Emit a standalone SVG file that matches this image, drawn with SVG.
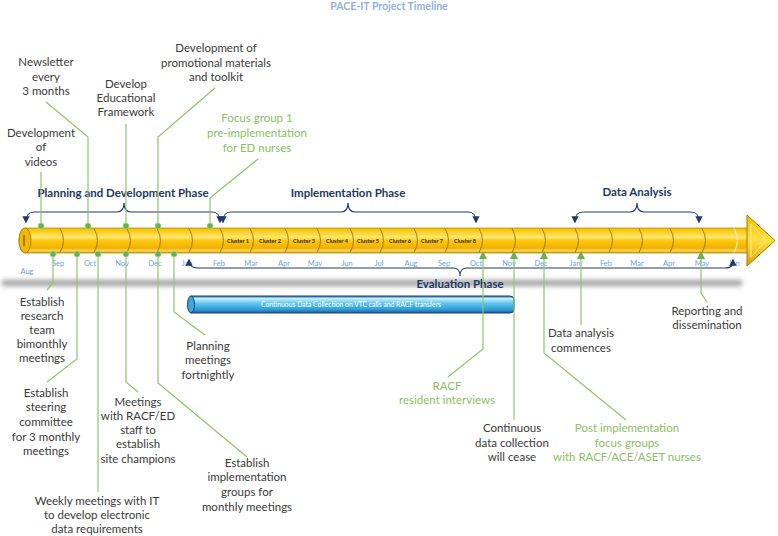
<svg xmlns="http://www.w3.org/2000/svg" width="778" height="536" viewBox="0 0 778 536">
<defs>
<linearGradient id="gold" x1="0" y1="0" x2="0" y2="1">
<stop offset="0" stop-color="#f0bc00"/>
<stop offset="0.18" stop-color="#ffd22a"/>
<stop offset="0.36" stop-color="#ffe878"/>
<stop offset="0.5" stop-color="#fcca10"/>
<stop offset="0.8" stop-color="#f2b000"/>
<stop offset="0.92" stop-color="#f8d860"/>
<stop offset="1" stop-color="#d49400"/>
</linearGradient>
<linearGradient id="goldH" x1="0" y1="0" x2="0" y2="1">
<stop offset="0" stop-color="#f5c000"/>
<stop offset="0.5" stop-color="#ffdf40"/>
<stop offset="1" stop-color="#dca000"/>
</linearGradient>
<linearGradient id="blue" x1="0" y1="0" x2="0" y2="1">
<stop offset="0" stop-color="#1c6fae"/>
<stop offset="0.15" stop-color="#c6effc"/>
<stop offset="0.45" stop-color="#5cc3ee"/>
<stop offset="0.8" stop-color="#2f9bd6"/>
<stop offset="1" stop-color="#1b5f9c"/>
</linearGradient>
<filter id="blur" x="-5%" y="-200%" width="110%" height="500%">
<feGaussianBlur stdDeviation="2.5"/>
</filter>
<marker id="ah" viewBox="0 0 10 10" refX="8" refY="5" markerWidth="6" markerHeight="6" orient="auto-start-reverse">
<path d="M0,0 L10,5 L0,10 Z" fill="#1f3a6e"/>
</marker>
<style>
.t{font-family:Lato,"Open Sans","Liberation Sans",sans-serif;font-size:11.5px;fill:#3a3a3a;text-anchor:middle}
.g{fill:#8cc063}
.ph{font-family:Lato,"Open Sans","Liberation Sans",sans-serif;font-size:11.5px;font-weight:bold;fill:#203864;text-anchor:middle}
.m{font-family:Lato,"Open Sans","Liberation Sans",sans-serif;font-size:7.5px;fill:#6f9fd8;text-anchor:middle}
.c{font-family:Lato,"Liberation Sans",sans-serif;font-size:5.5px;font-weight:bold;fill:#3a2a00;text-anchor:middle}
.ln{fill:none;stroke:#92c46a;stroke-width:1.2}
.br{fill:none;stroke:#1f3a6e;stroke-width:1.2}
.dv{fill:none;stroke:#8c6a00;stroke-width:0.8}
.dot{fill:#6ab04c;stroke:#a8d88a;stroke-width:0.8}
.tri{fill:#6ab04c}
</style>
</defs>
<rect width="778" height="536" fill="#ffffff"/>
<text x="389" y="10" style="font-family:Lato,'Open Sans','Liberation Sans',sans-serif;font-size:10.5px;font-weight:bold;fill:#8fb3dc;text-anchor:middle">PACE-IT Project Timeline</text>

<!-- shadow -->
<rect x="2" y="280" width="740" height="6" fill="#777777" opacity="0.7" filter="url(#blur)"/>

<!-- timeline cylinder -->
<g id="timeline">
<path d="M25,228 L748,228 L748,253 L25,253 A6,12.5 0 0 1 25,228 Z" fill="url(#gold)" stroke="#b8900a" stroke-width="0.8"/>
<polygon points="747,215 775,240.5 747,266" fill="url(#goldH)" stroke="#a47c00" stroke-width="1"/>
<polygon points="751,224 766,240.5 751,257" fill="none" stroke="#fff3a8" stroke-width="1" opacity="0.8"/>
<ellipse cx="25" cy="240.5" rx="6" ry="12.5" fill="#f0b800" stroke="#9c7800" stroke-width="0.8"/>
<line x1="24" y1="235" x2="24" y2="246" stroke="#5a4400" stroke-width="1"/>
<g class="dv">
<path d="M60,228.5 Q67,240.5 60,252.5"/>
<path d="M94,228.5 Q101,240.5 94,252.5"/>
<path d="M127,228.5 Q134,240.5 127,252.5"/>
<path d="M157,228.5 Q164,240.5 157,252.5"/>
<path d="M189,228.5 Q196,240.5 189,252.5"/>
<path d="M220,228.5 Q227,240.5 220,252.5"/>
<path d="M250,228.5 Q257,240.5 250,252.5"/>
<path d="M285,228.5 Q292,240.5 285,252.5"/>
<path d="M317,228.5 Q324,240.5 317,252.5"/>
<path d="M350,228.5 Q357,240.5 350,252.5"/>
<path d="M380,228.5 Q387,240.5 380,252.5"/>
<path d="M414,228.5 Q421,240.5 414,252.5"/>
<path d="M445,228.5 Q452,240.5 445,252.5"/>
<path d="M479,228.5 Q486,240.5 479,252.5"/>
<path d="M512,228.5 Q519,240.5 512,252.5"/>
<path d="M542,228.5 Q549,240.5 542,252.5"/>
<path d="M575,228.5 Q582,240.5 575,252.5"/>
<path d="M609,228.5 Q616,240.5 609,252.5"/>
<path d="M639,228.5 Q646,240.5 639,252.5"/>
<path d="M670,228.5 Q677,240.5 670,252.5"/>
<path d="M702,228.5 Q709,240.5 702,252.5"/>
</g>
<path d="M734,228.5 Q741,240.5 734,252.5" fill="none" stroke="#fff6c8" stroke-width="1"/>
<g>
<text class="c" x="238" y="243">Cluster 1</text>
<text class="c" x="270" y="243">Cluster 2</text>
<text class="c" x="304" y="243">Cluster 3</text>
<text class="c" x="337" y="243">Cluster 4</text>
<text class="c" x="368" y="243">Cluster 5</text>
<text class="c" x="400" y="243">Cluster 6</text>
<text class="c" x="432" y="243">Cluster 7</text>
<text class="c" x="465" y="243">Cluster 8</text>
</g>
</g>

<!-- months -->
<g id="months">
<text class="m" x="27" y="274">Aug</text>
<text class="m" x="58" y="266">Sep</text>
<text class="m" x="90" y="266">Oct</text>
<text class="m" x="122" y="266">Nov</text>
<text class="m" x="155" y="266">Dec</text>
<text class="m" x="187" y="266">Jan</text>
<text class="m" x="219" y="266">Feb</text>
<text class="m" x="251" y="266">Mar</text>
<text class="m" x="284" y="266">Apr</text>
<text class="m" x="315" y="266">May</text>
<text class="m" x="347" y="266">Jun</text>
<text class="m" x="379" y="266">Jul</text>
<text class="m" x="411" y="266">Aug</text>
<text class="m" x="444" y="266">Sep</text>
<text class="m" x="476" y="266">Oct</text>
<text class="m" x="509" y="266">Nov</text>
<text class="m" x="541" y="266">Dec</text>
<text class="m" x="575" y="266">Jan</text>
<text class="m" x="606" y="266">Feb</text>
<text class="m" x="637" y="266">Mar</text>
<text class="m" x="669" y="266">Apr</text>
<text class="m" x="702" y="266">May</text>
<text class="m" x="734" y="266">Jun</text>
</g>

<!-- phases -->
<g id="phase-planning">
<path class="br" d="M26,222 C26,215 28,212 34,212 L117,212 C122,212 124,209 124,203 C124,209 126,212 131,212 L212,212 C218,212 220,215 220,222" marker-start="url(#ah)" marker-end="url(#ah)"/>
<text class="ph" x="123" y="197">Planning and Development Phase</text>
</g>
<g id="phase-implementation">
<path class="br" d="M223,222 C223,215 225,212 231,212 L341,212 C346,212 348,209 348,203 C348,209 350,212 355,212 L468,212 C474,212 476,215 476,222" marker-start="url(#ah)" marker-end="url(#ah)"/>
<text class="ph" x="348" y="197">Implementation Phase</text>
</g>
<g id="phase-data">
<path class="br" d="M575,222 C575,215 577,212 583,212 L630,212 C635,212 637,209 637,203 C637,209 639,212 644,212 L691,212 C697,212 699,215 699,222" marker-start="url(#ah)" marker-end="url(#ah)"/>
<text class="ph" x="637" y="196">Data Analysis</text>
</g>
<g id="phase-evaluation">
<path class="br" d="M189,260 C189,266 192,268 198,268 L453,268 C458,268 460,270 460,276 C460,270 462,268 467,268 L725,268 C731,268 733,266 733,260" marker-start="url(#ah)" marker-end="url(#ah)"/>
<text class="ph" x="460" y="288">Evaluation Phase</text>
</g>

<!-- continuous data collection bar -->
<g id="data-collection-bar">
<path d="M191,296 L510,296 Q514,296 514,300 L514,309 Q514,313 510,313 L191,313 Z" fill="url(#blue)" stroke="#1f3b73" stroke-width="1"/>
<ellipse cx="191" cy="304.5" rx="3.5" ry="8.5" fill="#3aa6de" stroke="#1f3b73" stroke-width="1"/>
<text x="351" y="307" style="font-family:Lato,'Liberation Sans',sans-serif;font-size:6.8px;fill:#ffffff;text-anchor:middle">Continuous Data Collection on VTC calls and RACF transfers</text>
</g>

<!-- connectors -->
<g id="connectors">
<polyline class="ln" points="41,172 41,226"/>
<polyline class="ln" points="46,102 88,137 88,226"/>
<polyline class="ln" points="126,124 126,226"/>
<polyline class="ln" points="215,88 158,137 158,226"/>
<polyline class="ln" points="258,159 210,198 210,226"/>
<polyline class="ln" points="53,254 53,283 47,290"/>
<polyline class="ln" points="77,254 77,359 47,382"/>
<polyline class="ln" points="98,254 98,492"/>
<polyline class="ln" points="126,254 126,382 138,392"/>
<polyline class="ln" points="158,254 158,383 247,457"/>
<polyline class="ln" points="174,254 174,312 205,335"/>
<polyline class="ln" points="483,256 483,349 448,377"/>
<polyline class="ln" points="514,256 514,420"/>
<polyline class="ln" points="581,256 581,325"/>
<polyline class="ln" points="544,256 544,353 626,420"/>
<polyline class="ln" points="701,256 701,293 707,302"/>
<g>
<circle class="dot" cx="41" cy="226" r="3"/>
<circle class="dot" cx="88" cy="226" r="3"/>
<circle class="dot" cx="126" cy="226" r="3"/>
<circle class="dot" cx="158" cy="226" r="3"/>
<circle class="dot" cx="210" cy="226" r="3"/>
<circle class="dot" cx="53" cy="254" r="3"/>
<circle class="dot" cx="77" cy="254" r="3"/>
<circle class="dot" cx="98" cy="254" r="3"/>
<circle class="dot" cx="126" cy="254" r="3"/>
<circle class="dot" cx="158" cy="254" r="3"/>
<circle class="dot" cx="174" cy="254" r="3"/>
<polygon class="tri" points="479,259 483,251 487,259"/>
<polygon class="tri" points="510,259 514,251 518,259"/>
<polygon class="tri" points="540,259 544,251 548,259"/>
<polygon class="tri" points="577,259 581,251 585,259"/>
<polygon class="tri" points="697,259 701,251 705,259"/>
</g>
</g>

<!-- nodes -->
<g id="n-videos"><text class="t" x="41" y="137">Development</text><text class="t" x="41" y="151">of</text><text class="t" x="41" y="166">videos</text></g>
<g id="n-newsletter"><text class="t" x="46" y="66">Newsletter</text><text class="t" x="46" y="81">every</text><text class="t" x="46" y="95">3 months</text></g>
<g id="n-educational"><text class="t" x="126" y="88">Develop</text><text class="t" x="126" y="102">Educational</text><text class="t" x="126" y="116">Framework</text></g>
<g id="n-promotional"><text class="t" x="216" y="52">Development of</text><text class="t" x="216" y="67">promotional materials</text><text class="t" x="216" y="81">and toolkit</text></g>
<g id="n-focus1"><text class="t g" x="257" y="122">Focus group 1</text><text class="t g" x="257" y="137">pre-implementation</text><text class="t g" x="257" y="152">for ED nurses</text></g>
<g id="n-research"><text class="t" x="42" y="306">Establish</text><text class="t" x="42" y="320">research</text><text class="t" x="42" y="334">team</text><text class="t" x="42" y="348">bimonthly</text><text class="t" x="42" y="362">meetings</text></g>
<g id="n-steering"><text class="t" x="46" y="397">Establish</text><text class="t" x="46" y="411">steering</text><text class="t" x="46" y="426">committee</text><text class="t" x="46" y="441">for 3 monthly</text><text class="t" x="46" y="455">meetings</text></g>
<g id="n-weekly"><text class="t" x="97" y="505">Weekly meetings with IT</text><text class="t" x="97" y="519">to develop electronic</text><text class="t" x="97" y="533">data requirements</text></g>
<g id="n-racf-ed"><text class="t" x="138" y="406">Meetings</text><text class="t" x="138" y="420">with RACF/ED</text><text class="t" x="138" y="434">staff to</text><text class="t" x="138" y="448">establish</text><text class="t" x="138" y="463">site champions</text></g>
<g id="n-impl-groups"><text class="t" x="247" y="467">Establish</text><text class="t" x="247" y="481">implementation</text><text class="t" x="247" y="496">groups for</text><text class="t" x="247" y="511">monthly meetings</text></g>
<g id="n-planning"><text class="t" x="208" y="350">Planning</text><text class="t" x="208" y="364">meetings</text><text class="t" x="208" y="379">fortnightly</text></g>
<g id="n-racf-interviews"><text class="t g" x="447" y="390">RACF</text><text class="t g" x="447" y="404">resident interviews</text></g>
<g id="n-cease"><text class="t" x="512" y="432">Continuous</text><text class="t" x="512" y="447">data collection</text><text class="t" x="512" y="461">will cease</text></g>
<g id="n-analysis"><text class="t" x="581" y="337">Data analysis</text><text class="t" x="581" y="352">commences</text></g>
<g id="n-post"><text class="t g" x="627" y="432">Post implementation</text><text class="t g" x="627" y="447">focus groups</text><text class="t g" x="627" y="461">with RACF/ACE/ASET nurses</text></g>
<g id="n-reporting"><text class="t" x="707" y="315">Reporting and</text><text class="t" x="707" y="329">dissemination</text></g>
</svg>
